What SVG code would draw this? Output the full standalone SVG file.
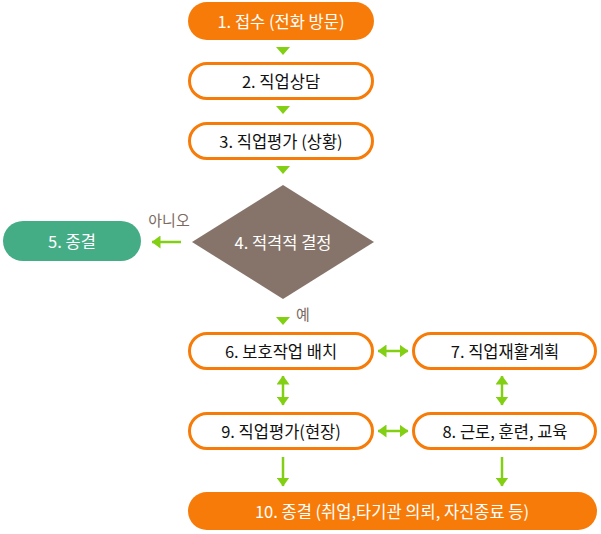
<svg xmlns="http://www.w3.org/2000/svg" width="601" height="534" viewBox="0 0 601 534">
<style>
text{font-family:"Noto Sans CJK KR","Noto Sans",sans-serif;font-size:16.5px;font-weight:400;text-anchor:middle;dominant-baseline:central}
.fill{fill:#f77b08}
.out{fill:#fff;stroke:#f77b08;stroke-width:3}
.wt{fill:#fff}
.bk{fill:#111}
.ln{stroke:#82cf14;stroke-width:2.5;fill:none}
.hd{fill:#82cf14}
.lb{fill:#7a6a60;font-size:15px}
</style>
<defs>
<marker id="ah" viewBox="0 0 9 13" refX="8.5" refY="6.5" markerWidth="9" markerHeight="13" orient="auto-start-reverse" markerUnits="userSpaceOnUse"><path d="M0,0L9,6.5L0,13z" class="hd"/></marker>
</defs>
<g id="n1"><rect class="fill" x="188" y="2" width="186" height="38" rx="19"/><text class="wt" x="281" y="21">1. 접수 (전화 방문)</text></g>
<g id="n2"><rect class="out" x="189.5" y="63.5" width="183" height="35" rx="17.5"/><text class="bk" x="281" y="81">2. 직업상담</text></g>
<g id="n3"><rect class="out" x="189.5" y="123.5" width="183" height="35" rx="17.5"/><text class="bk" x="281" y="141">3. 직업평가 (상황)</text></g>
<g id="n4"><polygon points="283,185 374,242 283,299 192,242" fill="#86746a"/><text class="wt" x="283" y="242">4. 적격적 결정</text></g>
<g id="n5"><rect x="3" y="221" width="138" height="40" rx="20" fill="#45ad86"/><text class="wt" x="72" y="241">5. 종결</text></g>
<g id="n6"><rect class="out" x="189.5" y="333.5" width="183" height="35" rx="17.5"/><text class="bk" x="281" y="351">6. 보호작업 배치</text></g>
<g id="n7"><rect class="out" x="413.5" y="333.5" width="182" height="35" rx="17.5"/><text class="bk" x="505" y="351">7. 직업재활계획</text></g>
<g id="n9"><rect class="out" x="189.5" y="413.5" width="183" height="35" rx="17.5"/><text class="bk" x="281" y="431">9. 직업평가(현장)</text></g>
<g id="n8"><rect class="out" x="413.5" y="413.5" width="182" height="35" rx="17.5"/><text class="bk" x="505" y="431">8. 근로, 훈련, 교육</text></g>
<g id="n10"><rect class="fill" x="188" y="492" width="409" height="38" rx="19"/><text class="wt" x="392" y="511">10. 종결 (취업,타기관 의뢰, 자진종료 등)</text></g>
<g id="connectors">
<polygon class="hd" points="276,47 290,47 283,55"/>
<polygon class="hd" points="276,106 290,106 283,114"/>
<polygon class="hd" points="276,166 290,166 283,174"/>
<polygon class="hd" points="276,317 290,317 283,325"/>
<line class="ln" x1="181" y1="242" x2="152" y2="242" marker-end="url(#ah)"/>
<line class="ln" x1="378" y1="351" x2="408" y2="351" marker-start="url(#ah)" marker-end="url(#ah)"/>
<line class="ln" x1="378" y1="431" x2="408" y2="431" marker-start="url(#ah)" marker-end="url(#ah)"/>
<line class="ln" x1="283" y1="376" x2="283" y2="405" marker-start="url(#ah)" marker-end="url(#ah)"/>
<line class="ln" x1="502" y1="376" x2="502" y2="405" marker-start="url(#ah)" marker-end="url(#ah)"/>
<line class="ln" x1="283" y1="457" x2="283" y2="486" marker-end="url(#ah)"/>
<line class="ln" x1="502" y1="457" x2="502" y2="486" marker-end="url(#ah)"/>
<text class="lb" x="169" y="219">아니오</text>
<text class="lb" x="303" y="313">예</text>
</g>
</svg>
